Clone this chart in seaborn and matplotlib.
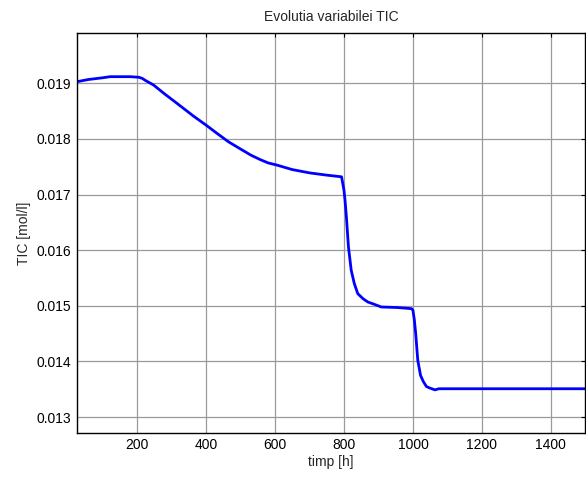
import matplotlib
matplotlib.use("Agg")
import matplotlib.pyplot as plt
import seaborn as sns
import pandas as pd

time_h = [26, 60, 100, 122, 150, 180, 205, 215, 225, 248, 280, 316, 364, 400, 430, 465, 500, 530, 557, 580, 606, 650, 701, 750, 793,
          800, 803, 807, 813, 821, 830, 840, 855, 869, 887, 908, 955, 996,
          1000, 1004, 1008, 1014, 1022, 1030, 1039, 1050, 1064, 1075, 1100, 1200, 1300, 1400, 1500]
tic_mol_l = [0.01903, 0.01907, 0.01910, 0.01912, 0.01912, 0.01912, 0.01911, 0.01909, 0.01905, 0.01897, 0.01881, 0.01864, 0.01841, 0.01825, 0.01811, 0.01795, 0.01782, 0.01771, 0.01763, 0.01757, 0.01753, 0.01745, 0.01739, 0.01735, 0.01732,
             0.01708, 0.01690, 0.01660, 0.01606, 0.01564, 0.01540, 0.01522, 0.01513, 0.01507, 0.01503, 0.01498, 0.01497, 0.01495,
             0.01492, 0.01475, 0.01450, 0.01402, 0.01375, 0.01364, 0.01355, 0.01352, 0.01349, 0.01351, 0.01351, 0.01351, 0.01351, 0.01351, 0.01351]

x_ticks = [200, 400, 600, 800, 1000, 1200, 1400]
y_ticks = [0.013, 0.014, 0.015, 0.016, 0.017, 0.018, 0.019]

sns.set_style("white")
plt.rcParams['font.family'] = ['Liberation Sans', 'DejaVu Sans']
plt.rcParams['font.size'] = 10

df = pd.DataFrame({"timp": time_h, "TIC": tic_mol_l})

fig = plt.figure(figsize=(5.86, 4.82), dpi=100)
ax = fig.add_axes([0.1314, 0.1023, 0.8676, 0.8292])
sns.lineplot(data=df, x="timp", y="TIC", ax=ax, color="#0000ff", linewidth=2, estimator=None, sort=False)

ax.set_xlim(26, 1500)
ax.set_ylim(0.01272, 0.019905)
ax.set_xticks(x_ticks)
ax.set_xticklabels([str(v) for v in x_ticks])
ax.set_yticks(y_ticks)
ax.set_yticklabels([f"{v:.3f}" for v in y_ticks])
ax.grid(True, color="#9a9a9a", linewidth=0.9, linestyle="-")
ax.set_axisbelow(True)
ax.tick_params(direction="in", length=3, width=0.8, top=True, right=True, labelsize=10, colors="black", pad=4)
for s in ax.spines.values():
    s.set_color("black")
    s.set_linewidth(1.0)
    s.set_visible(True)
ax.set_title("Evolutia variabilei TIC", fontsize=10, pad=9)
ax.set_xlabel("timp [h]", fontsize=10, labelpad=2)
ax.set_ylabel("TIC [mol/l]", fontsize=10, labelpad=4)

fig.savefig("out.png", dpi=100)
